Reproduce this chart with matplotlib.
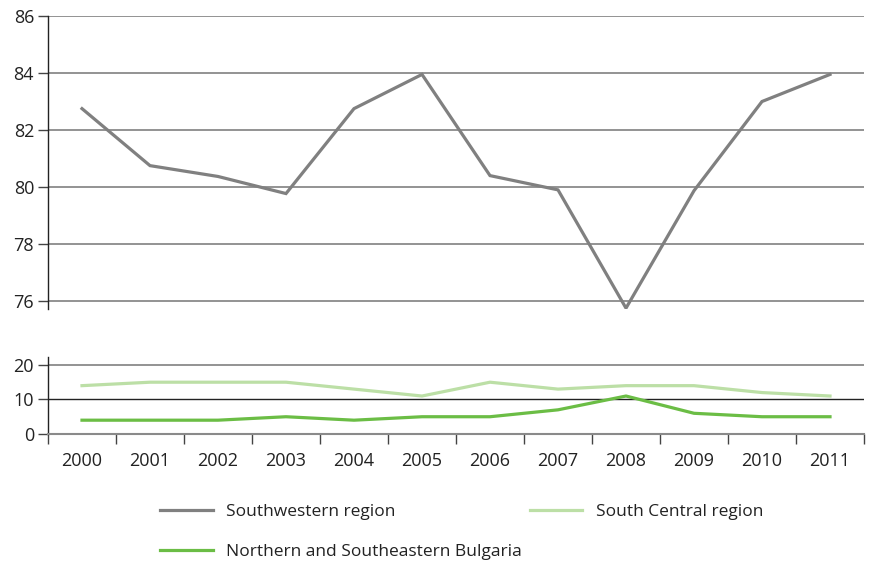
import matplotlib
matplotlib.use("Agg")
import matplotlib.pyplot as plt
from matplotlib.ticker import FixedLocator

years = ["2000", "2001", "2002", "2003", "2004", "2005", "2006", "2007", "2008", "2009", "2010", "2011"]
southwestern = [82.75, 80.75, 80.37, 79.77, 82.75, 83.95, 80.4, 79.9, 75.75, 79.87, 83.0, 83.95]
south_central = [14, 15, 15, 15, 13, 11, 15, 13, 14, 14, 12, 11]
northern = [4, 4, 4, 5, 4, 5, 5, 7, 11, 6, 5, 5]
top_ticks = [76, 78, 80, 82, 84, 86]
bottom_ticks = [0, 10, 20]

plt.rcParams['font.family'] = ['Open Sans', 'DejaVu Sans']
fig = plt.figure(figsize=(8.69, 5.63), dpi=100)
W, H = 869, 563

def box(l, t, r, b):
    return [l / W, 1 - b / H, (r - l) / W, (b - t) / H]

ax1 = fig.add_axes(box(48, 16, 864, 309))
ax2 = fig.add_axes(box(48, 357, 864, 434))

x = list(range(len(years)))
c_sw = '#808080'
c_sc = '#bcdfa6'
c_n = '#6bbd45'
grid_c = '#8a8a8a'

l1, = ax1.plot(x, southwestern, color=c_sw, lw=2.3, solid_joinstyle='miter', zorder=3)
l2, = ax2.plot(x, south_central, color=c_sc, lw=2.3, zorder=3)
l3, = ax2.plot(x, northern, color=c_n, lw=2.3, zorder=3)

for ax in (ax1, ax2):
    ax.set_xlim(-0.5, 11.5)
    for s in ('top', 'right'):
        ax.spines[s].set_visible(False)
    ax.spines['left'].set_color('#222222')
    ax.spines['left'].set_linewidth(1.0)
    ax.tick_params(axis='y', length=7, width=1, color='#444444', labelsize=13,
                   labelcolor='#222222', pad=3)

ax1.set_ylim(75.72, 86)
ax1.set_yticks(top_ticks)
ax1.spines['bottom'].set_visible(False)
ax1.set_xticks([])
for v in top_ticks:
    ax1.axhline(v, color=grid_c, lw=1.3, zorder=1)

ax2.set_ylim(0, 22.3)
ax2.set_yticks(bottom_ticks)
ax2.axhline(20, color=grid_c, lw=1.3, zorder=1)
ax2.axhline(10, color='#222222', lw=1.0, zorder=1)
ax2.spines['bottom'].set_color(grid_c)
ax2.spines['bottom'].set_linewidth(1.5)
ax2.set_xticks(x)
ax2.set_xticklabels(years)
ax2.xaxis.set_minor_locator(FixedLocator([i - 0.5 for i in range(len(years) + 1)]))
ax2.tick_params(axis='x', which='major', length=0, labelsize=13, labelcolor='#222222', pad=13)
ax2.tick_params(axis='x', which='minor', length=7, width=1, color='#444444')

leg = fig.legend([l1, l3, l2],
                 ["Southwestern region", "Northern and Southeastern Bulgaria", "South Central region"],
                 ncol=2, loc='upper left', bbox_to_anchor=(160 / W, 1 - 504 / H),
                 frameon=False, fontsize=12.5, handlelength=3.05, handletextpad=0.75,
                 columnspacing=0.45, labelspacing=1.38, borderaxespad=0, borderpad=0)
for t in leg.get_texts():
    t.set_color('#222222')

fig.savefig("out.png", dpi=100)
